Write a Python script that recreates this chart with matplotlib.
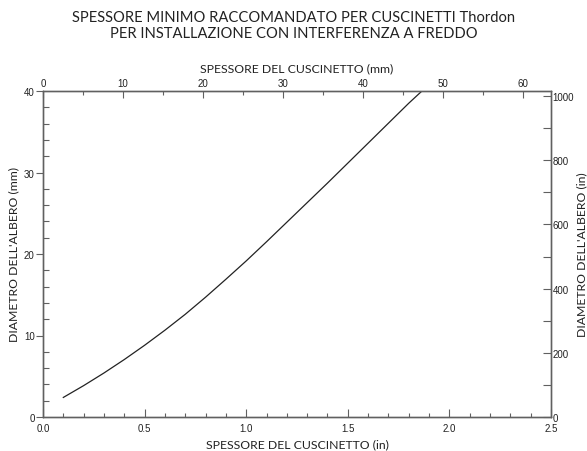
import matplotlib
matplotlib.use("Agg")
import matplotlib.pyplot as plt
from matplotlib.ticker import MultipleLocator, FormatStrFormatter

# Data
thickness_in = [0.10, 0.20, 0.30, 0.40, 0.50, 0.60, 0.70, 0.80, 0.90, 1.00,
                1.10, 1.20, 1.30, 1.40, 1.50, 1.60, 1.70, 1.80, 1.865]
shaft_diam = [2.4, 3.85, 5.4, 7.05, 8.8, 10.65, 12.6, 14.7, 16.9, 19.15,
              21.5, 23.9, 26.3, 28.7, 31.15, 33.6, 36.05, 38.5, 40.0]

title_lines = ["SPESSORE MINIMO RACCOMANDATO PER CUSCINETTI Thordon",
               "PER INSTALLAZIONE CON INTERFERENZA A FREDDO"]
xlabel_bottom = "SPESSORE DEL CUSCINETTO (in)"
xlabel_top = "SPESSORE DEL CUSCINETTO (mm)"
ylabel_left = "DIAMETRO DELL'ALBERO (mm)"
ylabel_right = "DIAMETRO DELL'ALBERO (in)"

title_font = "Lato"
label_font = "Lato"
tick_font = ["Liberation Sans Narrow", "Liberation Sans", "DejaVu Sans"]

spine_c = "#606060"
text_c = "#222222"

fig = plt.figure(figsize=(5.87, 4.52), dpi=100)
ax = fig.add_axes([43/587, 1-418/452, (551-43)/587, (418-92)/452])

ax.plot(thickness_in, shaft_diam, color="#222222", lw=0.9)
ax.set_xlim(0, 2.5)
ax.set_ylim(0, 40)

ax.xaxis.set_major_locator(MultipleLocator(0.5))
ax.xaxis.set_minor_locator(MultipleLocator(0.1))
ax.yaxis.set_major_locator(MultipleLocator(10))
ax.yaxis.set_minor_locator(MultipleLocator(2))
ax.xaxis.set_major_formatter(FormatStrFormatter("%.1f"))

axt = ax.twiny()
axt.set_xlim(0, 2.5 * 25.4)
axt.xaxis.set_major_locator(MultipleLocator(10))
axt.xaxis.set_minor_locator(MultipleLocator(5))

axr = ax.twinx()
axr.set_ylim(0, 40 * 25.4)
axr.yaxis.set_major_locator(MultipleLocator(200))
axr.yaxis.set_minor_locator(MultipleLocator(100))

for a in (ax, axt, axr):
    for s in a.spines.values():
        s.set_color(spine_c)
        s.set_linewidth(0.9)

ax.tick_params(axis="x", which="major", direction="in", length=6, width=0.8,
               color=spine_c, labelsize=7, pad=4, labelcolor=text_c)
ax.tick_params(axis="x", which="minor", direction="in", length=3, width=0.8, color=spine_c)
ax.tick_params(axis="y", which="major", direction="out", length=5, width=0.8,
               color=spine_c, labelsize=7, pad=1, labelcolor=text_c)
ax.tick_params(axis="y", which="minor", direction="in", length=4, width=0.8, color=spine_c)
axt.tick_params(axis="x", which="major", direction="in", length=5, width=0.8,
                color=spine_c, labelsize=7, pad=2, labelcolor=text_c)
axt.tick_params(axis="x", which="minor", direction="in", length=3, width=0.8, color=spine_c)
axr.tick_params(axis="y", which="major", direction="in", length=6, width=0.8,
                color=spine_c, labelsize=7, pad=1, labelcolor=text_c)
axr.tick_params(axis="y", which="minor", direction="in", length=6, width=0.8, color=spine_c)

for a in (ax, axt, axr):
    for lab in a.get_xticklabels() + a.get_yticklabels():
        lab.set_family(tick_font)

ax.set_xlabel(xlabel_bottom, fontsize=8.8, family=label_font, color=text_c, labelpad=4)
axt.set_xlabel(xlabel_top, fontsize=8.8, family=label_font, color=text_c, labelpad=5)
ax.set_ylabel(ylabel_left, fontsize=8.8, family=label_font, color=text_c, labelpad=3)
axr.set_ylabel(ylabel_right, fontsize=8.8, family=label_font, color=text_c, labelpad=2)

fig.text(0.5, 1 - 18/452, title_lines[0], ha="center", va="center",
         fontsize=10.6, family=title_font, color=text_c)
fig.text(0.5, 1 - 34/452, title_lines[1], ha="center", va="center",
         fontsize=10.6, family=title_font, color=text_c)

fig.savefig("out.png", dpi=100, facecolor="white")
